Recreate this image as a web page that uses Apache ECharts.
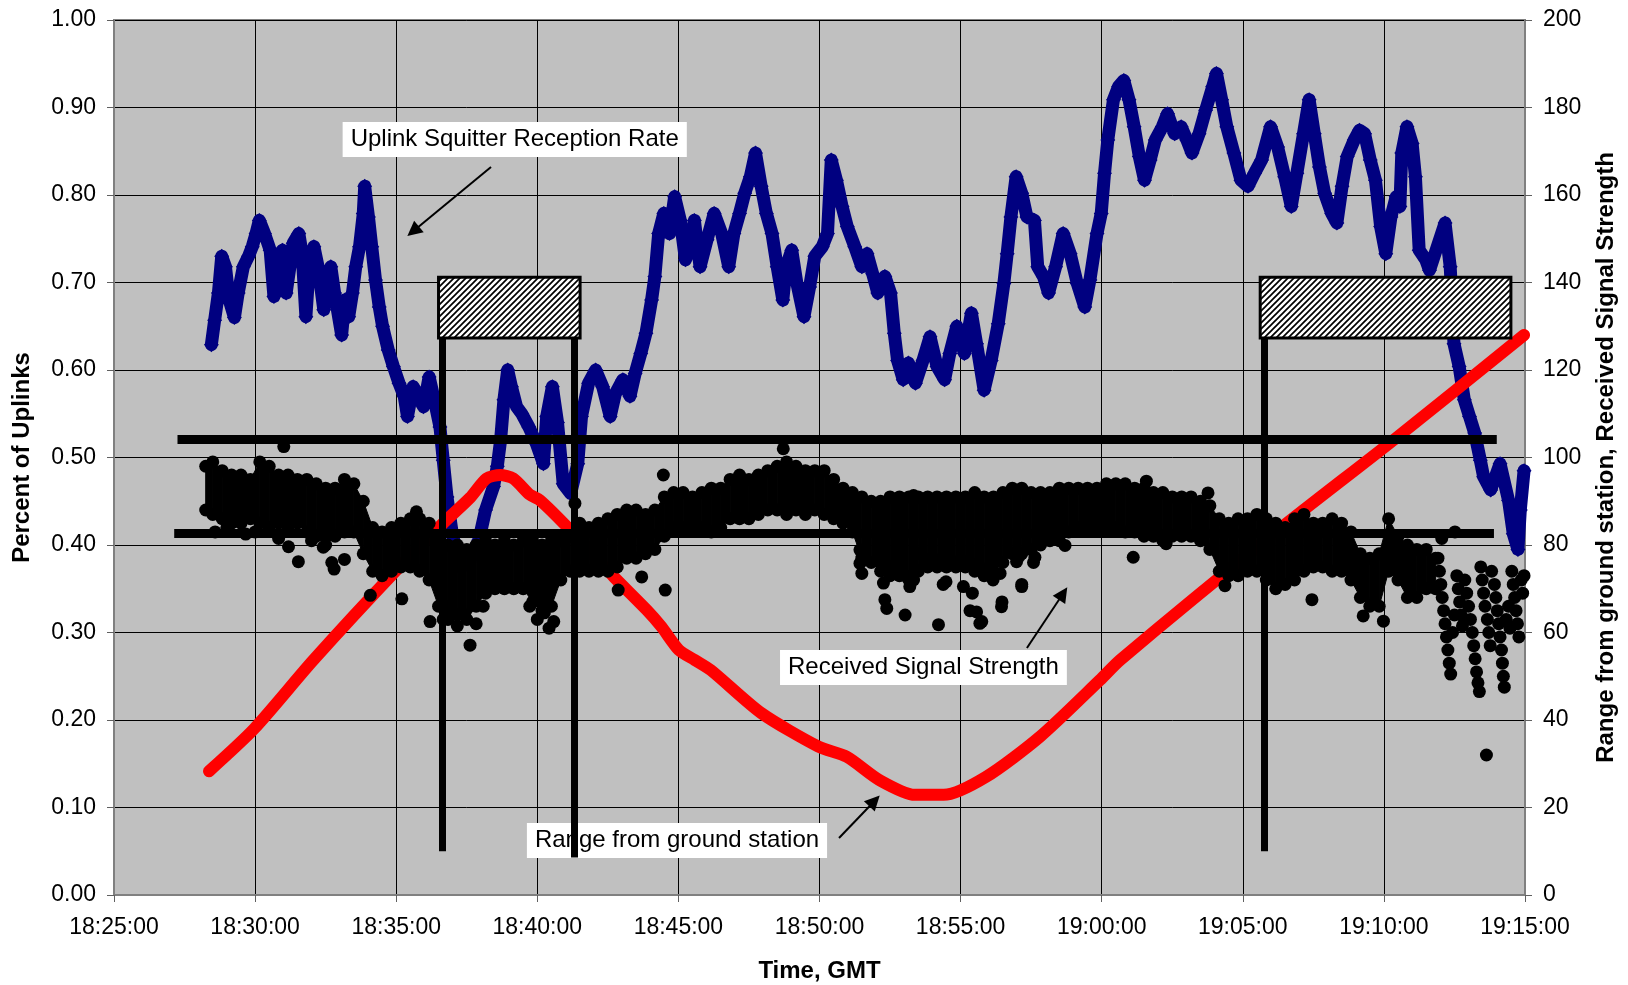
<!DOCTYPE html>
<html>
<head>
<meta charset="utf-8">
<script src="https://cdn.jsdelivr.net/npm/echarts@6/dist/echarts.min.js"></script>
<style>
  html, body { margin: 0; padding: 0; background: #fff; }
  #main { width: 1628px; height: 985px; }
</style>
</head>
<body>
<div id="main"></div>
<script>
// time is seconds after 18:25:00 GMT
var xTickLabels = ['18:25:00', '18:30:00', '18:35:00', '18:40:00', '18:45:00', '18:50:00',
  '18:55:00', '19:00:00', '19:05:00', '19:10:00', '19:15:00'];

// Uplink squitter reception rate (left axis)
var uplinkTime = [207,214,222,229,237,245,256,264,275,286,294,302,309,320,332,340,347,358,366,374,
  381,393,400,408,415,425,434,446,453,461,469,484,491,499,507,514,522,530,533,541,
  548,556,564,571,583,594,606,617,624,636,647,658,670,681,693,700,708,720,738,755,
  776,790,807,815,822,829,837,845,856,867,882,898,913,920,932,943,955,971,986,994,
  1009,1024,1039,1055,1066,1082,1097,1108,1120,1131,1143,1150,1158,1169,1181,1192,1204,1215,1227,1234,
  1246,1261,1276,1292,1307,1318,1330,1341,1353,1364,1376,1387,1399,1410,1422,1429,1441,1452,1467,1479,
  1490,1506,1517,1525,1536,1548,1559,1575,1590,1601,1613,1624,1639,1651,1659,1666,1678,1689,1704,1720,
  1735,1750,1766,1777,1792,1808,1823,1834,1850,1865,1880,1892,1899,1907,1918,1930,1941,1957,1964,1976,
  1987,2002,2018,2033,2048,2064,2075,2090,2099,2106,2113,2125,2136,2147,2158,2169,2180,2191,2203,2214,
  2229,2240,2255,2269,2281,2292,2307,2321,2336,2344,2355,2366,2381,2396,2411,2425,2440,2459,2474,2489,
  2503,2515,2529,2541,2552,2563,2574,2589,2600,2611,2622,2637,2648,2659,2671,2682,2693,2704,2715,2726,
  2734,2738,2749,2760,2767,2775,2789,2797,2830,2841,2849,2860,2871,2882,2893,2905,2912,2927,2947,2965,
  2975,2985,2990,2998];
var uplinkRate = [0.629,0.657,0.688,0.73,0.718,0.68,0.66,0.688,0.718,0.73,0.741,0.756,0.771,0.756,0.737,0.684,0.726,0.737,0.688,0.718,
  0.745,0.756,0.733,0.661,0.718,0.741,0.718,0.669,0.699,0.718,0.688,0.64,0.68,0.661,0.688,0.718,0.741,0.779,0.81,0.775,
  0.741,0.703,0.672,0.65,0.623,0.604,0.585,0.57,0.547,0.581,0.57,0.558,0.592,0.566,0.535,0.497,0.455,0.41,0.375,0.38,
  0.406,0.44,0.467,0.49,0.52,0.566,0.6,0.581,0.558,0.55,0.535,0.516,0.493,0.547,0.581,0.54,0.47,0.459,0.493,0.547,
  0.585,0.6,0.581,0.547,0.573,0.589,0.57,0.596,0.619,0.642,0.68,0.707,0.756,0.779,0.756,0.798,0.771,0.726,0.749,0.771,
  0.718,0.749,0.779,0.756,0.718,0.756,0.779,0.802,0.821,0.848,0.81,0.779,0.756,0.718,0.68,0.718,0.737,0.699,0.661,0.695,
  0.73,0.741,0.756,0.84,0.817,0.787,0.764,0.741,0.718,0.733,0.71,0.688,0.707,0.688,0.642,0.611,0.589,0.608,0.585,0.611,
  0.638,0.604,0.589,0.619,0.65,0.619,0.665,0.63,0.577,0.611,0.653,0.699,0.733,0.775,0.821,0.802,0.775,0.771,0.718,0.707,
  0.688,0.718,0.756,0.733,0.699,0.672,0.703,0.756,0.779,0.825,0.863,0.909,0.924,0.931,0.909,0.878,0.844,0.817,0.84,0.863,
  0.878,0.893,0.87,0.878,0.863,0.848,0.87,0.897,0.924,0.939,0.909,0.878,0.848,0.817,0.81,0.825,0.84,0.878,0.855,0.821,
  0.787,0.825,0.87,0.909,0.87,0.832,0.802,0.779,0.768,0.81,0.844,0.863,0.874,0.87,0.84,0.817,0.764,0.733,0.775,0.798,
  0.787,0.848,0.878,0.859,0.821,0.737,0.726,0.714,0.768,0.718,0.63,0.604,0.566,0.547,0.528,0.497,0.478,0.463,0.493,0.451,
  0.413,0.395,0.44,0.485];

// Range from ground station (right axis)
var rangeTime = [202,298,424,601,700,757,792,821,849,884,905,963,1062,1133,1164,1201,1235,1269,1376,1498,
  1558,1627,1703,1764,1854,1969,2096,2139,2467,2723,2998];
var rangeValue = [28.3,38,53.7,74.3,85,90.8,95.2,96,95.2,91.5,90.3,84.2,72.8,65.1,61.3,56,53.7,51.4,41.6,33.9,
  31.6,26.3,22.9,22.9,27,36.2,49.1,53.7,82.7,104.2,128];

// Received signal strength (right axis): body of the cloud, low / high
var rssTime = [195,210,230,250,270,290,310,330,350,370,390,410,430,450,470,490,510,530,550,570,
  590,610,630,650,670,690,710,730,750,770,790,810,830,850,870,890,910,930,950,970,
  990,1010,1030,1050,1070,1090,1110,1130,1150,1170,1190,1210,1230,1250,1270,1290,1310,1330,1350,1370,
  1390,1410,1430,1450,1470,1490,1510,1530,1550,1570,1590,1610,1630,1650,1670,1690,1710,1730,1750,1770,
  1790,1810,1830,1850,1870,1890,1910,1930,1950,1970,1990,2010,2030,2050,2070,2090,2110,2130,2150,2170,
  2190,2210,2230,2250,2270,2290,2310,2330,2350,2370,2390,2410,2430,2450,2470,2490,2510,2530,2550,2570,
  2590,2610,2630,2650,2670,2690,2710,2730,2750,2770,2790,2810];
var rssLow = [88,87,86,85,85,86,85,84,85,84,85,83,82,80,82,83,83,78,74,73,
  74,75,75,74,72,66,63,64,63,66,69,70,70,70,70,67,65,66,72,74,
  74,74,74,74,75,77,77,78,79,82,84,84,84,84,83,84,86,86,86,87,
  88,88,87,88,87,88,87,86,85,83,77,76,74,73,73,72,74,75,75,75,
  75,75,74,73,74,76,78,78,79,80,81,81,83,84,84,84,84,84,83,83,
  82,82,81,82,82,82,81,79,74,73,73,74,74,72,70,71,72,74,75,75,
  74,74,72,68,66,66,74,72,68,68,70,70];
var rssHigh = [98,99,97,96,96,95,99,98,96,96,95,95,94,93,93,95,94,90,84,83,
  84,85,86,86,85,82,80,80,79,80,81,80,81,80,81,81,80,81,81,82,
  85,84,85,86,87,88,88,87,88,91,92,92,91,92,93,93,95,96,95,96,
  97,98,99,98,97,97,97,95,93,92,91,90,90,91,91,91,91,91,91,91,
  91,91,92,91,91,92,93,93,92,92,92,93,93,93,93,93,94,94,94,93,
  93,92,92,91,91,91,90,89,86,85,86,86,87,86,85,84,86,87,85,85,
  86,85,83,78,77,78,86,82,80,79,79,77];

// stray readings away from the body of the cloud
var rssStrayTime = [215,240,280,300,350,361,371,392,420,445,463,468,490,545,612,643,672,
  700,715,730,745,757,770,785,884,900,915,925,935,980,1072,1122,1168,1172,1423,
  1586,1586,1590,1636,1636,1639,1643,1650,1682,1685,1692,1700,1700,1714,1740,1753,1763,1769,1770,
  1800,1806,1820,1825,1834,1834,1841,1845,1856,1869,1884,1887,1888,1919,1923,1930,1930,1955,1958,
  2022,2167,2195,2237,2326,2362,2547,2656,2699,2823,2851];
var rssStrayValue = [83,84,82.5,83,81.5,102.5,79.6,76.2,81,79.5,76,74.5,76.7,68.5,67.7,87.6,62.5,
  63,66,61.5,64,57.1,62,66,66,63,64.5,61,62.5,89.5,69.7,72.7,96,69.7,102,
  78.9,75.8,73.5,77.3,71.3,67.5,65.5,75,64,72.8,70.5,72,91.3,78,77,61.8,71,71.6,77,
  76.5,70.5,65,69,75.5,64.7,62.1,62.5,74.5,72,73.5,65.9,67,76.2,77.2,70.5,71,76,77.2,
  79.9,77.2,94.6,80.3,91.9,70.7,67.5,63.8,62.6,81.5,83];

// last minutes, streaky readings
var rssTailTime = [2815,2818,2821,2824,2827,2830,2833,2836,2839,2842,2846,2850,
  2855,2858,2861,2864,2867,2872,2876,2880,2884,2888,2891,2894,2897,2900,2903,
  2906,2909,2912,2915,2918,2920,2923,2926,2929,
  2935,2938,2941,2944,2947,2950,2952,2954,2956,2960,
  2965,2968,2972,2975,2978,2981,2984,2987,2992,2995,2998];
var rssTailValue = [77,74,71,68,65,62,59,56,53,50.5,60,64,
  73,70,67,64,61.5,72,69,66,63,60,57,54,51,48.5,46.5,
  75,72,69,66,32,63,60,57,74,
  71,68,65,62,59,56,53,50,47.5,63,
  66,61,74,71,68,65,62,59,72,69,73];

function zip(a, b) {
  return a.map(function (t, i) { return [t, b[i]]; });
}

function hatch() {
  var c = document.createElement('canvas');
  c.width = 6; c.height = 6;
  var g = c.getContext('2d');
  g.fillStyle = '#fff';
  g.fillRect(0, 0, 6, 6);
  g.strokeStyle = '#000';
  g.lineWidth = 1.7;
  g.beginPath();
  g.moveTo(-1, 7); g.lineTo(7, -1);
  g.moveTo(-1, 1); g.lineTo(1, -1);
  g.moveTo(5, 7); g.lineTo(7, 5);
  g.stroke();
  return c;
}

var FONT = 'Liberation Sans, Arial, Helvetica, sans-serif';

var rssEdges = zip(rssTime, rssHigh)
  .concat(zip(rssTime, rssLow))
  .concat(zip(rssStrayTime, rssStrayValue))
  .concat(zip(rssTailTime, rssTailValue));

var rssBand = rssTime.map(function (t, i) { return [t, rssLow[i], rssHigh[i]]; });

var myChart = echarts.init(document.getElementById('main'));

var labelBox = {
  show: true,
  position: 'inside',
  color: '#000',
  fontSize: 24,
  fontFamily: FONT,
  backgroundColor: '#fff',
  padding: [6, 8, 5, 8],
  formatter: '{b}'
};

var option = {
  animation: false,
  backgroundColor: '#fff',
  textStyle: { fontFamily: FONT },
  grid: {
    left: 114, right: 103, top: 20, bottom: 90,
    show: true,
    backgroundColor: '#c0c0c0',
    borderColor: '#808080',
    borderWidth: 2,
    containLabel: false,
    outerBoundsMode: 'none'
  },
  xAxis: {
    type: 'value',
    min: 0, max: 3000, interval: 300,
    name: 'Time, GMT',
    nameLocation: 'middle',
    nameGap: 64,
    nameMoveOverlap: false,
    nameTextStyle: { fontSize: 24, fontWeight: 'bold', color: '#000', fontFamily: FONT },
    axisLine: { show: true, lineStyle: { color: '#808080', width: 2 } },
    axisTick: { show: true, length: 7, lineStyle: { color: '#606060' } },
    axisLabel: {
      fontSize: 23, color: '#000', margin: 21, fontFamily: FONT,
      formatter: function (v) { return xTickLabels[Math.round(v / 300)]; }
    },
    splitLine: { show: true, lineStyle: { color: '#000', width: 1 } }
  },
  yAxis: [
    {
      type: 'value',
      min: 0, max: 1, interval: 0.1,
      name: 'Percent of Uplinks',
      nameLocation: 'middle',
      nameRotate: 90,
      nameGap: 80,
      nameMoveOverlap: false,
      nameTextStyle: { fontSize: 24, fontWeight: 'bold', color: '#000', fontFamily: FONT },
      axisLine: { show: true, lineStyle: { color: '#808080', width: 2 } },
      axisTick: { show: true, length: 7, lineStyle: { color: '#606060' } },
      axisLabel: {
        fontSize: 23, color: '#000', margin: 18, fontFamily: FONT,
        formatter: function (v) { return v.toFixed(2); }
      },
      splitLine: { show: true, lineStyle: { color: '#000', width: 1 } }
    },
    {
      type: 'value',
      min: 0, max: 200, interval: 20,
      position: 'right',
      name: 'Range from ground station, Received Signal Strength',
      nameLocation: 'middle',
      nameRotate: 90,
      nameGap: 69,
      nameMoveOverlap: false,
      nameTextStyle: { fontSize: 24, fontWeight: 'bold', color: '#000', fontFamily: FONT },
      axisLine: { show: true, lineStyle: { color: '#808080', width: 2 } },
      axisTick: { show: true, length: 7, lineStyle: { color: '#606060' } },
      axisLabel: { fontSize: 23, color: '#000', margin: 18, fontFamily: FONT },
      splitLine: { show: false }
    }
  ],
  series: [
    {
      name: 'Uplink Squitter Reception Rate',
      type: 'line',
      yAxisIndex: 0,
      z: 2,
      data: zip(uplinkTime, uplinkRate),
      showSymbol: true,
      symbol: 'diamond',
      symbolSize: 15,
      itemStyle: { color: '#000080' },
      lineStyle: { color: '#000080', width: 13, join: 'round', cap: 'round' },
      silent: true
    },
    {
      name: 'Range from ground station',
      type: 'line',
      yAxisIndex: 1,
      z: 3,
      data: zip(rangeTime, rangeValue),
      smooth: 0.25,
      showSymbol: false,
      lineStyle: { color: '#ff0000', width: 12, cap: 'round', join: 'round' },
      silent: true
    },
    {
      name: 'Received Signal Strength band',
      type: 'custom',
      yAxisIndex: 1,
      z: 4,
      data: rssBand,
      encode: { x: 0, y: [1, 2] },
      silent: true,
      renderItem: function (params, api) {
        var i = params.dataIndex;
        if (i >= rssTime.length - 1) return null;
        var pts = [
          api.coord([rssTime[i], rssHigh[i]]),
          api.coord([rssTime[i + 1], rssHigh[i + 1]]),
          api.coord([rssTime[i + 1], rssLow[i + 1]]),
          api.coord([rssTime[i], rssLow[i]])
        ];
        return {
          type: 'polygon',
          shape: { points: pts },
          style: { fill: '#000', stroke: '#000', lineWidth: 1 }
        };
      }
    },
    {
      name: 'Received Signal Strength',
      type: 'scatter',
      yAxisIndex: 1,
      z: 4,
      data: rssEdges,
      symbol: 'circle',
      symbolSize: 13,
      itemStyle: { color: '#000', opacity: 1 },
      silent: true
    },
    {
      // boxes, bars, arrows and text boxes in left-axis units
      type: 'scatter',
      yAxisIndex: 0,
      data: [],
      silent: true,
      markArea: {
        z: 20,
        silent: true,
        label: { show: false },
        itemStyle: { color: { image: hatch(), repeat: 'repeat' }, borderColor: '#000', borderWidth: 3, opacity: 1 },
        data: [
          [{ coord: [690, 0.6366] }, { coord: [991, 0.706] }],
          [{ coord: [2437, 0.6366] }, { coord: [2970, 0.706] }]
        ]
      },
      markPoint: {
        z: 19,
        silent: true,
        symbol: 'rect',
        symbolSize: [1, 1],
        itemStyle: { color: 'rgba(0,0,0,0)' },
        label: labelBox,
        data: [
          { name: 'Uplink Squitter Reception Rate', coord: [852, 0.8634] },
          { name: 'Received Signal Strength', coord: [1721, 0.26] },
          { name: 'Range from ground station', coord: [1197, 0.0623] }
        ]
      },
      markLine: {
        z: 21,
        silent: true,
        symbol: ['none', 'none'],
        label: { show: false },
        lineStyle: { color: '#000', width: 7, type: 'solid', opacity: 1 },
        data: [
          [{ coord: [697, 0.6366] }, { coord: [697, 0.05] }],
          [{ coord: [979, 0.6366] }, { coord: [979, 0.043] }],
          [{ coord: [2446, 0.6366] }, { coord: [2446, 0.05] }],
          [{ coord: [801.6, 0.832], lineStyle: { width: 2 } }, { coord: [636, 0.7585], symbol: 'triangle', symbolSize: 15 }],
          [{ coord: [1941, 0.2823], lineStyle: { width: 2 } }, { coord: [2018, 0.3445], symbol: 'triangle', symbolSize: 15 }],
          [{ coord: [1541.5, 0.0651], lineStyle: { width: 2 } }, { coord: [1617, 0.1075], symbol: 'triangle', symbolSize: 15 }]
        ]
      }
    },
    {
      // signal strength threshold bars in right-axis units
      type: 'scatter',
      yAxisIndex: 1,
      data: [],
      silent: true,
      markLine: {
        z: 21,
        silent: true,
        symbol: ['none', 'none'],
        label: { show: false },
        lineStyle: { color: '#000', width: 9, type: 'solid', opacity: 1 },
        data: [
          [{ coord: [135, 104.2] }, { coord: [2940, 104.2] }],
          [{ coord: [128, 82.7] }, { coord: [2934, 82.7] }]
        ]
      }
    }
  ]
};

myChart.setOption(option);
</script>
</body>
</html>
